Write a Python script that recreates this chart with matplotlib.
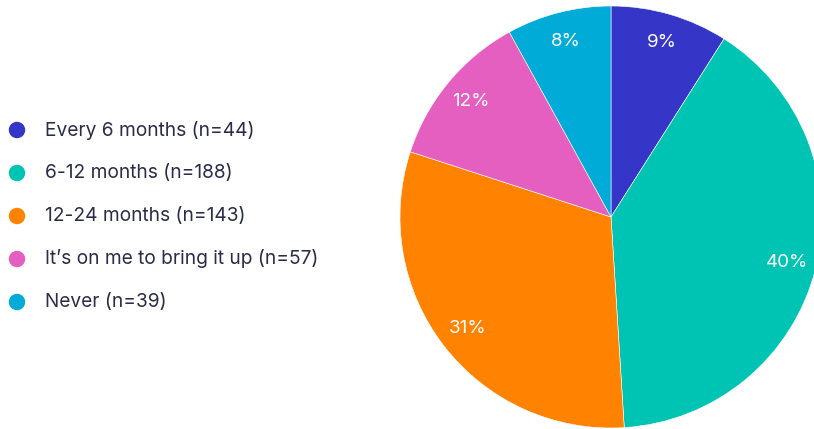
import matplotlib.pyplot as plt

plt.rcParams["font.family"] = ["Inter", "DejaVu Sans"]

categories = [
    "Every 6 months",
    "6-12 months",
    "12-24 months",
    "It\u2019s on me to bring it up",
    "Never",
]
counts = [44, 188, 143, 57, 39]
shares = [9, 40, 31, 12, 8]
colors = ["#3535c8", "#00c4b3", "#ff8200", "#e45fbf", "#00abd7"]

W, H = 814, 429
fig = plt.figure(figsize=(W / 100, H / 100), dpi=100)
ax = fig.add_axes([0, 0, 1, 1])

# pie sits on the right and runs slightly off the edge
wedges, texts, autotexts = ax.pie(
    shares,
    colors=colors,
    startangle=90,
    counterclock=False,
    center=(611, H - 217),
    radius=211,
    autopct=lambda p: f"{p:.0f}%",
    pctdistance=0.86,
    wedgeprops=dict(edgecolor="white", linewidth=0.4),
    textprops=dict(color="white", fontsize=13.5),
    frame=True,
)
ax.set_xlim(0, W)
ax.set_ylim(0, H)
ax.set_aspect("equal")
ax.axis("off")

# legend on the left
row_y = [H - 130, H - 173, H - 216, H - 259, H - 302]
for y, cat, n, c in zip(row_y, categories, counts, colors):
    ax.scatter([17], [y], s=140, color=c, edgecolors="none", clip_on=False)
    ax.text(45, y, f"{cat} (n={n})", va="center", ha="left",
            fontsize=13.8, color="#2b2d48")

fig.savefig("out.png", dpi=100)
plt.close(fig)
